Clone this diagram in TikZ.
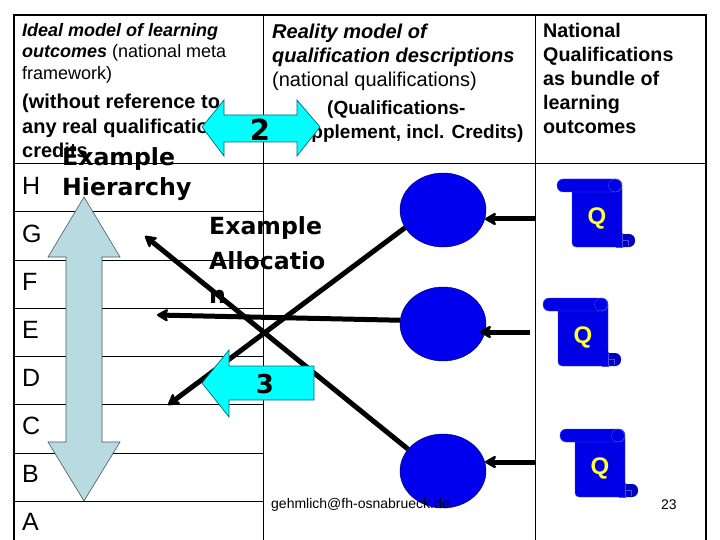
\documentclass[tikz,border=0pt]{standalone}
\usepackage{fontspec}
\setmainfont{Liberation Sans}
\newfontfamily\verdfont{DejaVu Sans}
\usetikzlibrary{arrows.meta, shapes.geometric}
\definecolor{scrollblue}{HTML}{0000E6}
\definecolor{scrolledge}{HTML}{4A4AE8}
\definecolor{ballblue}{HTML}{0000EE}
\definecolor{palearrow}{HTML}{B7DBE0}
\definecolor{brightcyan}{HTML}{00FFFF}
\definecolor{cyanedge}{HTML}{006B70}
\definecolor{qyellow}{HTML}{FFFF33}

\tikzset{
  scrollq/.pic={
    \draw[scrolledge, fill=scrollblue, rounded corners=4] (0,4) rectangle (50,68);
    \draw[scrolledge, fill=scrollblue, rounded corners=6] (-15,0) -- (50,0) -- (50,13) -- (-15,13) -- cycle;
    \draw[scrolledge] (43,6.5) circle (6.5);
    \fill[blue!75!black, rounded corners=6] (44,55) rectangle (63,68);
    \draw[scrolledge, fill=scrollblue] (50,54.5) -- (50,68) -- (44,68) -- (44,54.5) -- cycle;
    \fill[scrollblue] (42,50) rectangle (49.5,67.5);
    \draw[scrolledge] (50,61) -- (56,61) -- (56,67);
    \node[qmark] (-q) at (25,39) {Q};
  }
}

\begin{document}
\begin{tikzpicture}[x=1pt, y=-1pt, >={Stealth[round, length=14pt, width=16pt]},
    txt/.style={anchor=north west, inner sep=0pt, align=left},
    level/.style={anchor=west, inner sep=0pt, font=\fontsize{25}{25}\selectfont},
    ideal/.style={txt, font=\fontsize{18}{21.5}\selectfont},
    ideal2/.style={txt, font=\fontsize{20}{24.5}\selectfont\bfseries},
    reality/.style={txt, font=\fontsize{20}{24}\selectfont},
    bundle/.style={txt, font=\fontsize{19.7}{24}\selectfont\bfseries},
    callout/.style={txt, font=\fontsize{23.6}{30}\selectfont\verdfont\bfseries},
    small/.style={anchor=west, inner sep=0pt, font=\fontsize{14}{14}\selectfont},
    ball/.style={ellipse, draw=black!70!blue, fill=ballblue, minimum width=86pt, minimum height=74pt, inner sep=0pt},
    qmark/.style={text=qyellow, inner sep=0pt, font=\fontsize{24}{24}\selectfont\bfseries},
    thickline/.style={->, line width=5pt},
    cyanarrow/.style={draw=cyanedge, fill=brightcyan, line width=0.7pt},
    palearrowstyle/.style={draw=black!60!palearrow, fill=palearrow, line width=0.6pt},
    num/.style={inner sep=0pt, font=\verdfont\bfseries}]
    \useasboundingbox (0,0) rectangle (720,540);

    % Draw table
    \draw[line width=0.8pt] (14,163) -- (706,163);
    \draw[line width=0.8pt] (14,211) -- (263,211);
    \draw[line width=0.8pt] (14,260) -- (263,260);
    \draw[line width=0.8pt] (14,308) -- (263,308);
    \draw[line width=0.8pt] (14,356) -- (263,356);
    \draw[line width=0.8pt] (14,404) -- (263,404);
    \draw[line width=0.8pt] (14,453) -- (263,453);
    \draw[line width=0.8pt] (14,501) -- (263,501);
    \draw[line width=0.8pt] (263,15) -- (263,540);
    \draw[line width=0.8pt] (535.5,15) -- (535.5,540);
    \draw[line width=1.8pt] (14,540) -- (14,15) -- (706,15) -- (706,540);

    % Define header texts
    \node[ideal] (idealhead) at (22,23) {\textbf{\textit{Ideal model of learning}}\\\textbf{\textit{outcomes}} (national meta\\framework)};
    \node[ideal2] (idealnote) at (22,94) {(without reference to\\any real qualifications\\credits};
    \node[reality] (realhead) at (272,24) {\textbf{\textit{Reality model of}}\\\textbf{\textit{qualification descriptions}}\\(national qualifications)};
    \node[txt, font=\fontsize{19}{23.5}\selectfont\bfseries] (realnote) at (287,101) {\hspace*{40pt}(Qualifications-\\Supplement, incl. Credits)};
    \node[bundle] (bundlehead) at (543,23) {National\\Qualifications\\as bundle of\\learning\\outcomes};

    % Define levels
    \node[level] (lvh) at (22,186) {H};
    \node[level] (lvg) at (22,234) {G};
    \node[level] (lvf) at (22,282) {F};
    \node[level] (lve) at (22,330) {E};
    \node[level] (lvd) at (22,378) {D};
    \node[level] (lvc) at (22,426) {C};
    \node[level] (lvb) at (22,474) {B};
    \node[level] (lva) at (22,522) {A};

    % Define balls and scrolls
    \node[ball] (b1) at (443,210) {};
    \node[ball] (b2) at (443,324) {};
    \node[ball] (b3) at (443,471) {};
    \pic (q1) at (572,179) {scrollq};
    \pic (q2) at (558,298) {scrollq};
    \pic (q3) at (575,429) {scrollq};

    % Free ends of the arrows
    \coordinate (g1) at (145,236);
    \coordinate (e1) at (157,315);
    \coordinate (d1) at (168,405);
    \coordinate (q1s) at (535,219);
    \coordinate (q2s) at (530,332);
    \coordinate (q3s) at (535,462);
    \coordinate (q1t) at (485,219);
    \coordinate (q2t) at (480,332);
    \coordinate (q3t) at (485,462);

    % Callout texts
    \node[callout] (exh) at (62,147.5) {Example\\Hierarchy};
    \node[callout, font=\fontsize{23.6}{34.5}\selectfont\verdfont\bfseries] (exa) at (209,216.5) {Example\\Allocatio\\n};

    % Draw edges
    \draw[thickline] (b3.148) -- (g1);
    \draw[thickline] (b2.175) -- (e1);
    \draw[thickline] (b1.205) -- (d1);
    \draw[thickline] (q1s) -- (q1t);
    \draw[thickline] (q2s) -- (q2t);
    \draw[thickline] (q3s) -- (q3t);

    % Block arrows
    \draw[palearrowstyle] (84,197) -- (120,257) -- (102,257) -- (102,442) -- (120,442) -- (84,501) -- (48,442) -- (66,442) -- (66,257) -- (48,257) -- cycle;
    \draw[cyanarrow] (202,127) -- (224,100) -- (224,115) -- (297,115) -- (297,100) -- (320,127) -- (297,156) -- (297,142) -- (224,142) -- (224,156) -- cycle;
    \draw[cyanarrow] (202,383) -- (229,350) -- (229,366) -- (314,366) -- (314,400) -- (229,400) -- (229,417) -- cycle;
    \node[num, font=\fontsize{29}{29}\selectfont\verdfont\bfseries] (two) at (260,130) {2};
    \node[num, font=\fontsize{26}{26}\selectfont\verdfont\bfseries] (three) at (265,384) {3};

    % Footer
    \node[small] (mail) at (271,505) {gehmlich@fh-osnabrueck.de};
    \node[small] (page) at (661,505) {23};
\end{tikzpicture}
\end{document}
